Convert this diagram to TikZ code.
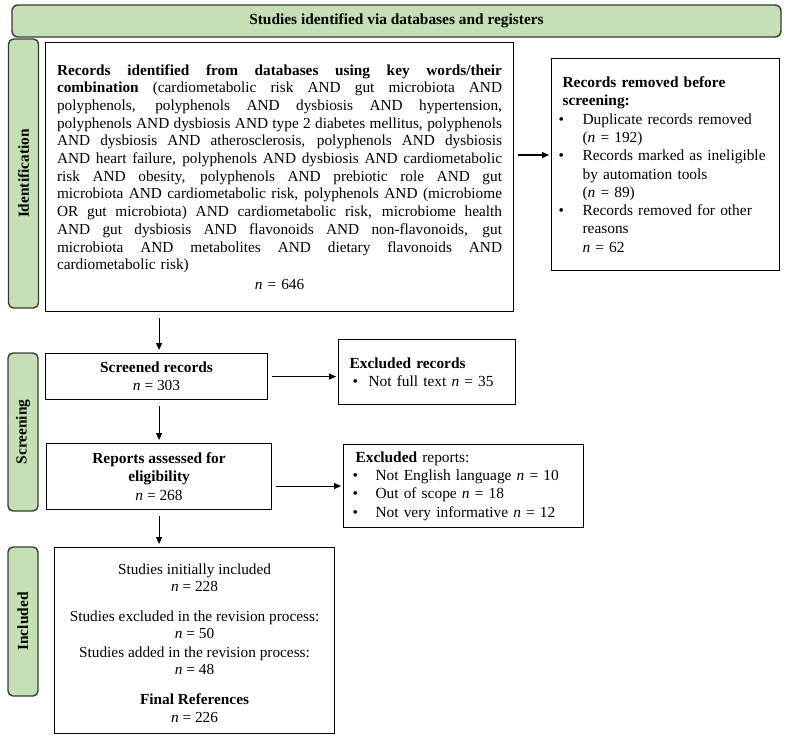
\documentclass[tikz,border=0pt]{standalone}
\usepackage{fontspec}
\setmainfont{Liberation Serif}
\usetikzlibrary{arrows.meta}
\definecolor{lgreen}{HTML}{C5E0B4}
\definecolor{dgray}{HTML}{3A3A3A}
\newcommand{\fmain}{\fontsize{15.3}{17.7}\selectfont}
\newcommand{\fside}{\fontsize{15.4}{18.3}\selectfont}
\newcommand{\jl}[1]{\hbox to 445pt{\spaceskip=0.25em plus 1fil minus 0.06em\relax\xspaceskip=\spaceskip #1}}
\newcommand{\bitem}[2][24pt]{\par\noindent\hangindent=#1\hangafter=1\makebox[#1][l]{\textbullet}#2\par}
\begin{document}
\begin{tikzpicture}[x=1pt,y=-1pt,
  box/.style={draw=black, line width=1.1pt, inner sep=0pt},
  lane/.style={draw=dgray, line width=1.4pt, fill=lgreen, rounded corners=5pt,
    rotate=90, font=\bfseries\fside, inner sep=0pt, minimum height=30pt},
  arr/.style={-{Triangle[length=7pt,width=6pt]}, line width=1.1pt},
  varr/.style={arr, shorten <=6pt, shorten >=3pt},
  harr/.style={arr, shorten <=4pt, shorten >=2pt}
]
\useasboundingbox (0,0) rectangle (788,737);

% banner
\node[draw=dgray, line width=1.4pt, fill=lgreen, rounded corners=6pt,
  minimum width=769pt, minimum height=32pt, inner sep=0pt, font=\bfseries\fside]
  (banner) at (396.5,21) {Studies identified via databases and registers};

% lane labels
\node[lane, minimum width=269pt] (lid) at (23.5,173.5) {Identification};
\node[lane, minimum width=158pt] (lsc) at (23,432) {Screening};
\node[lane, minimum width=149pt] (lin) at (23,621.5) {Included};

% main box
\node[box, anchor=north west, minimum width=468pt, minimum height=269pt,
  text width=445pt, font=\fmain] (main) at (45,42) {%
\noindent\jl{\textbf{Records identified from databases using key words/their}}\par
\noindent\jl{\textbf{combination} (cardiometabolic risk AND gut microbiota AND}\par
\noindent\jl{polyphenols, polyphenols AND dysbiosis AND hypertension,}\par
\noindent\jl{polyphenols AND dysbiosis AND type 2 diabetes mellitus, polyphenols}\par
\noindent\jl{AND dysbiosis AND atherosclerosis, polyphenols AND dysbiosis}\par
\noindent\jl{AND heart failure, polyphenols AND dysbiosis AND cardiometabolic}\par
\noindent\jl{risk AND obesity, polyphenols AND prebiotic role AND gut}\par
\noindent\jl{microbiota AND cardiometabolic risk, polyphenols AND (microbiome}\par
\noindent\jl{OR gut microbiota) AND cardiometabolic risk, microbiome health}\par
\noindent\jl{AND gut dysbiosis AND flavonoids AND non-flavonoids, gut}\par
\noindent\jl{microbiota AND metabolites AND dietary flavonoids AND}\par
\noindent cardiometabolic risk)\par
\vspace{2.3pt}
{\centering\textit{n} = 646\par}};

% records removed
\node[box, anchor=north west, minimum width=228pt, minimum height=212pt,
  text width=214pt, align=left, font=\fside] (rem) at (551,58) {%
\noindent\hspace*{4pt}\textbf{Records removed before}\newline
\hspace*{4pt}\textbf{screening:}\par
\bitem{Duplicate records removed\newline(\textit{n} = 192)}
\bitem{Records marked as ineligible\newline by automation tools\newline(\textit{n} = 89)}
\bitem{Records removed for other\newline reasons\newline\textit{n} = 62}};

% screened
\node[box, anchor=north west, minimum width=222pt, minimum height=46pt,
  align=center, font=\fside] (scr) at (45,353) {%
\textbf{Screened records}\\\textit{n} = 303};

% excluded records
\node[box, anchor=north west, minimum width=177pt, minimum height=65pt,
  text width=155pt, align=left, font=\fside] (exr) at (338,339) {%
\noindent\textbf{Excluded records}\\
\hspace*{3pt}\makebox[16pt][l]{\textbullet}Not full text \textit{n} = 35};

% reports
\node[box, anchor=north west, minimum width=225pt, minimum height=66pt,
  align=center, font=\fside] (rep) at (46,443) {%
\textbf{Reports assessed for}\\\textbf{eligibility}\\\textit{n} = 268};

% excluded reports
\node[box, anchor=north west, minimum width=240pt, minimum height=83pt,
  text width=222pt, align=left, font=\fside] (exp) at (343,444) {%
\noindent\hspace*{3pt}\textbf{Excluded} reports:\\
\makebox[23pt][l]{\textbullet}Not English language \textit{n} = 10\\
\makebox[23pt][l]{\textbullet}Out of scope \textit{n} = 18\\
\makebox[23pt][l]{\textbullet}Not very informative \textit{n} = 12};

% included
\node[box, anchor=north west, minimum width=280pt, minimum height=186pt,
  align=center, font=\fontsize{15.3}{17.3}\selectfont] (inc) at (54,547) {%
\rule{0pt}{16pt}Studies initially included\\\textit{n} = 228\\[12pt]
Studies excluded in the revision process:\\\textit{n} = 50\\[1.5pt]
Studies added in the revision process:\\\textit{n} = 48\\[13pt]
\textbf{Final References}\\\textit{n} = 226};

% connectors
\coordinate (yrem) at (0,155);
\draw[harr] (main.east |- yrem) -- (rem.west |- yrem);
\draw[varr] (main.south -| rep.north) -- (scr.north -| rep.north);
\draw[harr] (scr.east) -- (exr.west |- scr.east);
\draw[varr] (scr.south -| rep.north) -- (rep.north);
\draw[harr] (rep.east |- exp.west) -- (exp.west);
\draw[varr] (rep.south) -- (inc.north -| rep.south);
\end{tikzpicture}
\end{document}
